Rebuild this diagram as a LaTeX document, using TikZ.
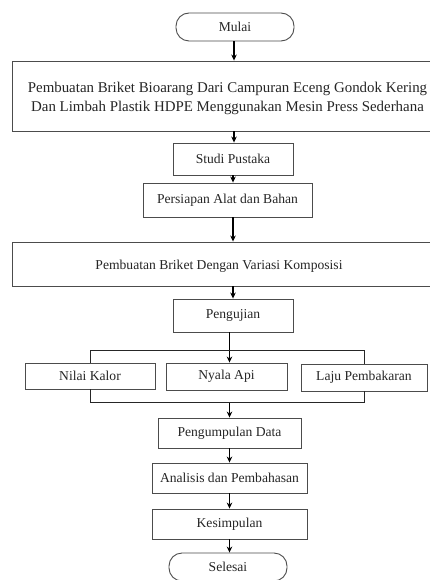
\documentclass[tikz,border=0pt]{standalone}
\usepackage{fontspec}
\setmainfont{Liberation Serif}
\usetikzlibrary{arrows.meta}
\begin{document}
\begin{tikzpicture}[x=1pt,y=-1pt,
  every node/.style={font=\fontsize{13.6}{19}\selectfont, text=black!85, inner sep=0pt},
  box/.style={draw=black!70, line width=0.9pt, rectangle},
  term/.style={draw=black!70, line width=0.9pt, rectangle, rounded corners=13pt},
  arr/.style={line width=1.2pt, -{Stealth[length=6pt,width=5.5pt]}},
  ln/.style={line width=1pt, draw=black!85}]
\useasboundingbox (0,0) rectangle (430,580);
\clip (0,0) rectangle (430,580);
\fill[white] (0,0) rectangle (430,580);
\node[term, minimum width=118pt, minimum height=28pt] (mulai) at (235,27) {Mulai};
\node[box, minimum width=433pt, minimum height=70pt] (b1) at (228.5,96) {};
\node[align=center, font=\fontsize{14.9}{19}\selectfont] (b1t) at (227.5,98) {Pembuatan Briket Bioarang Dari Campuran Eceng Gondok Kering\\Dan Limbah Plastik HDPE Menggunakan Mesin Press Sederhana};
\node[box, minimum width=120pt, minimum height=32pt] (studi) at (233,159) {Studi Pustaka};
\node[box, minimum width=169pt, minimum height=34pt] (persiapan) at (227.5,200) {Persiapan Alat dan Bahan};
\node[box, minimum width=433pt, minimum height=44pt] (b2) at (228.5,264) {};
\node (b2t) at (219,266) {Pembuatan Briket Dengan Variasi Komposisi};
\node[box, minimum width=120pt, minimum height=33pt] (uji) at (233,315.5) {Pengujian};
\node[box, minimum width=130pt, minimum height=26pt] (nilai) at (90,376) {Nilai Kalor};
\node[box, minimum width=121pt, minimum height=27pt] (nyala) at (226.5,376.5) {Nyala Api};
\node[box, minimum width=126pt, minimum height=27pt] (laju) at (364,377.5) {Laju Pembakaran};
\node[box, minimum width=143pt, minimum height=30pt] (kumpul) at (229.5,433) {Pengumpulan Data};
\node[box, minimum width=155pt, minimum height=30pt] (analisis) at (229.5,478) {Analisis dan Pembahasan};
\node[box, minimum width=155pt, minimum height=30pt] (simpul) at (229.5,524) {Kesimpulan};
\node[term, minimum width=118pt, minimum height=28pt] (selesai) at (228,567) {Selesai};
\coordinate (bartop) at (229.5,350);
\coordinate (barbot) at (229.5,402.5);
\draw[arr] ([xshift=-1pt]mulai.south) -- ([xshift=-1pt]mulai.south |- b1.north);
\draw[arr] ([xshift=5.5pt]b1.south) -- ([xshift=5.5pt]b1.south |- studi.north);
\draw[arr] (studi.south) -- (studi.south |- persiapan.north);
\draw[arr] ([xshift=5.5pt]persiapan.south) -- ([xshift=5.5pt]persiapan.south |- b2.north);
\draw[arr] ([xshift=4.5pt]b2.south) -- ([xshift=4.5pt]b2.south |- uji.north);
\draw[arr] (bartop |- uji.south) -- (bartop |- nyala.north);
\draw[ln] (nilai.north) -- (nilai.north |- bartop) -- (laju.north |- bartop) -- (laju.north);
\draw[ln] (nilai.south) -- (nilai.south |- barbot) -- (laju.south |- barbot) -- (laju.south);
\draw[arr] (barbot) -- (barbot |- kumpul.north);
\draw[arr] (kumpul.south) -- (analisis.north);
\draw[arr] (analisis.south) -- (simpul.north);
\draw[arr] (simpul.south) -- (simpul.south |- selesai.north);
\end{tikzpicture}
\end{document}
